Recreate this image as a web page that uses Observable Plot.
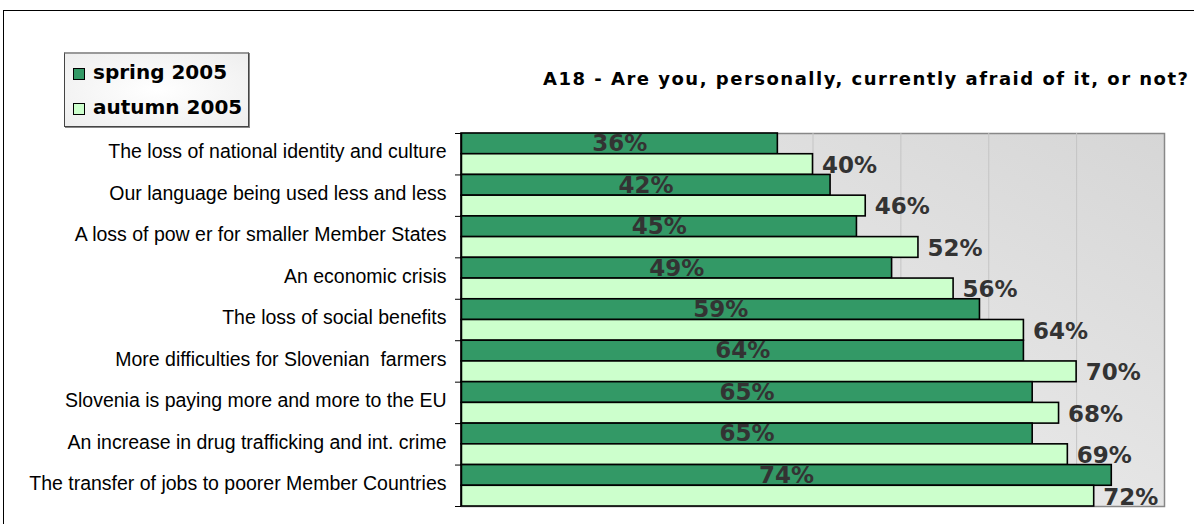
<!DOCTYPE html>
<html>
<head>
<meta charset="utf-8">
<script src="https://cdn.jsdelivr.net/npm/d3@7"></script>
<script src="https://cdn.jsdelivr.net/npm/@observablehq/plot@0.6"></script>
<style>
  html, body { margin: 0; padding: 0; background: #fff; }
  #wrap { position: relative; width: 1194px; height: 524px; overflow: hidden; background: #fff; }
  #outer { position: absolute; left: 3px; top: 10px; width: 1400px; height: 700px; border-left: 1px solid #000; border-top: 1px solid #000; }
  #chart { position: absolute; left: 0; top: 0; }
  #title { position: absolute; left: 543px; top: 70px; font: bold 18px "DejaVu Sans", Verdana, sans-serif; line-height: 18px; letter-spacing: 1.5px; color: #000; white-space: nowrap; }
  #legend { position: absolute; left: 64px; top: 52px; width: 183px; height: 72px; border: 1px solid #444; border-top: 2px solid #999; box-shadow: 1px 1px 0 #888;
            background: radial-gradient(ellipse at center, #ffffff 0%, #eeeeee 100%); }
  .sw { position: absolute; left: 8px; width: 10px; height: 10px; border: 1px solid #000; }
  .lt { position: absolute; left: 28px; font: bold 20px "DejaVu Sans", Verdana, sans-serif; line-height: 20px; color: #000; white-space: nowrap; }
</style>
</head>
<body>
<div id="wrap">
  <div id="outer"></div>
  <div id="chart"></div>
  <div id="title"></div>
  <div id="legend"></div>
</div>
<script>
const categories = [
  "The loss of national identity and culture",
  "Our language being used less and less",
  "A loss of pow er for smaller Member States",
  "An economic crisis",
  "The loss of social benefits",
  "More difficulties for Slovenian  farmers",
  "Slovenia is paying more and more to the EU",
  "An increase in drug trafficking and int. crime",
  "The transfer of jobs to poorer Member Countries"
];
const spring2005 = [36, 42, 45, 49, 59, 64, 65, 65, 74];
const autumn2005 = [40, 46, 52, 56, 64, 70, 68, 69, 72];
const seriesNames = ["spring 2005", "autumn 2005"];
const seriesColors = ["#339966", "#CCFFCC"];
const gridTicks = [10, 20, 30, 40, 50, 60, 70];
const titleText = "A18 - Are you, personally, currently afraid of it, or not?";

const rows = [];
categories.forEach((c, i) => {
  rows.push({cat: c, series: seriesNames[0], value: spring2005[i], y1: 2 * i, y2: 2 * i + 1});
  rows.push({cat: c, series: seriesNames[1], value: autumn2005[i], y1: 2 * i + 1, y2: 2 * i + 2});
});
const springRows = rows.filter(d => d.series === seriesNames[0]);
const autumnRows = rows.filter(d => d.series === seriesNames[1]);
const catRows = categories.map((c, i) => ({cat: c, yc: 2 * i + 1}));

const plot = Plot.plot({
  width: 1194,
  height: 524,
  marginLeft: 461,
  marginRight: 30,
  marginTop: 133,
  marginBottom: 18,
  style: {background: "transparent", overflow: "visible"},
  x: {type: "linear", domain: [0, 80], axis: null},
  y: {type: "linear", domain: [0, 2 * categories.length], reverse: true, axis: null},
  color: {domain: seriesNames, range: seriesColors},
  marks: [
    Plot.frame({fill: "url(#bgGrad)", stroke: "#888888", strokeWidth: 1.5}),
    Plot.ruleX(gridTicks, {stroke: "#c4c4c4", strokeWidth: 1}),
    Plot.rectX(rows, {x1: () => 0, x2: "value", y1: "y1", y2: "y2", fill: "series", stroke: "#000", strokeWidth: 1.6}),
    Plot.axisY(d3.range(0, 2 * categories.length + 1, 2), {tickSize: 6, tickFormat: () => "", stroke: "#000", label: null}),
    Plot.ruleX([0], {stroke: "#000", strokeWidth: 1.5}),
    Plot.text(springRows, {x: d => d.value / 2, y: d => d.y1 + 0.5, text: d => d.value + "%", fill: "#333333",
      fontFamily: "DejaVu Sans, Verdana, sans-serif", fontWeight: "bold", fontSize: 23, ariaLabel: "vals"}),
    Plot.text(autumnRows, {x: "value", y: d => d.y1 + 0.5, text: d => d.value + "%", fill: "#333333", textAnchor: "start", dx: 9, dy: 1,
      fontFamily: "DejaVu Sans, Verdana, sans-serif", fontWeight: "bold", fontSize: 23, ariaLabel: "vals"}),
    Plot.text(catRows, {x: () => 0, y: "yc", text: "cat", textAnchor: "end", dx: -15, dy: -2, fill: "#000",
      fontFamily: "Liberation Sans, Arial, sans-serif", fontSize: 19.5, ariaLabel: "cats"})
  ]
});

// background gradient for the plot area
const ns = "http://www.w3.org/2000/svg";
const defs = document.createElementNS(ns, "defs");
defs.innerHTML = `<linearGradient id="bgGrad" x1="0" y1="1" x2="1" y2="0">
  <stop offset="0" stop-color="#f4f4f4"/>
  <stop offset="1" stop-color="#d6d6d6"/>
</linearGradient>`;
plot.insertBefore(defs, plot.firstChild);
d3.select(plot).selectAll('g[aria-label="vals"]').attr("letter-spacing", "1.5px");
document.getElementById("chart").appendChild(plot);

document.getElementById("title").textContent = titleText;

const legend = document.getElementById("legend");
const swTops = [14, 49];
const txTops = [8, 43];
seriesNames.forEach((s, i) => {
  const sw = document.createElement("div");
  sw.className = "sw";
  sw.style.top = swTops[i] + "px";
  sw.style.background = seriesColors[i];
  legend.appendChild(sw);
  const t = document.createElement("div");
  t.className = "lt";
  t.style.top = txTops[i] + "px";
  t.textContent = s;
  legend.appendChild(t);
});
</script>
</body>
</html>
